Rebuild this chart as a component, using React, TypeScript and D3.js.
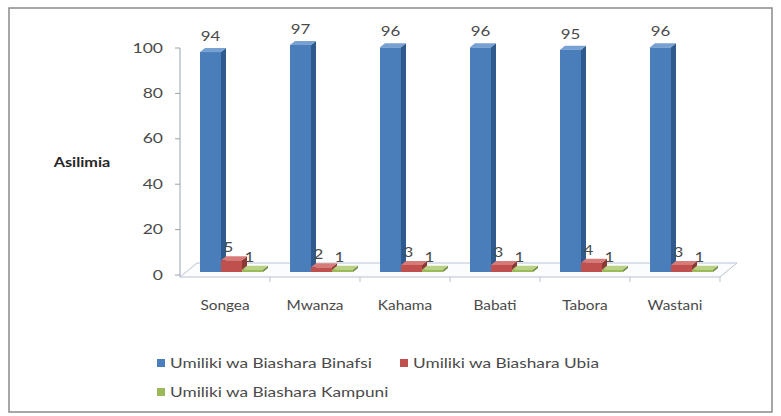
import React from 'react';
import * as d3 from 'd3';

// data
const categories = ['Songea', 'Mwanza', 'Kahama', 'Babati', 'Tabora', 'Wastani'];
const seriesNames = ['Umiliki wa Biashara Binafsi', 'Umiliki wa Biashara Ubia', 'Umiliki wa Biashara Kampuni'];
const binafsi = [94, 97, 96, 96, 95, 96];
const ubia = [5, 2, 3, 3, 4, 3];
const kampuni = [1, 1, 1, 1, 1, 1];
const yTicks = [0, 20, 40, 60, 80, 100];

const seriesValues = [binafsi, ubia, kampuni];
// front, side, top shades
const palette = [
  ['#4A7EBB', '#2F5A8E', '#77A0D3'],
  ['#C0504D', '#8C3836', '#D87B78'],
  ['#9BBB59', '#6F8A3C', '#B9D284'],
];

const W = 781;
const H = 416;
const font = 'Lato, "Open Sans", "Liberation Sans", sans-serif';

// the source image is stretched sideways, so text gets a horizontal scale
const T = ({ x, y, sx = 1.3, size = 13, anchor = 'start', weight = 'normal', fill = '#4a4a4a', dy = '0', children }: any) => (
  <text
    transform={`translate(${x},${y}) scale(${sx},1)`}
    textAnchor={anchor}
    fontSize={size}
    fontWeight={weight}
    fill={fill}
    fontFamily={font}
    dy={dy}
  >
    {children}
  </text>
);

const App = () => {
  // plot geometry
  const x0 = 180;
  const x1 = 720;
  const depthX = 17;
  const depthY = 14;
  const floorY = 277;

  const x = d3.scaleBand<string>().domain(categories).range([x0, x1]);
  const xs = d3.scaleBand<string>().domain(seriesNames).range([20, 83]);
  // axis ticks (front plane)
  const yAxis = d3.scaleLinear().domain([0, 100]).range([275, 48]);
  // bars sit on the back plane of the 3d box
  const yBar = d3.scaleLinear().domain([0, 100]).range([272, 38]);

  const d = 5; // bar depth
  const dd = 4;

  const bars: React.ReactNode[] = [];
  const labels: React.ReactNode[] = [];
  categories.forEach((c, i) => {
    seriesNames.forEach((s, j) => {
      const v = seriesValues[j][i];
      const bx = (x(c) as number) + (xs(s) as number);
      const w = xs.bandwidth();
      const top = yBar(v);
      const base = yBar(0);
      const [front, side, topC] = palette[j];
      bars.push(
        <g key={`${c}-${s}`}>
          <path
            d={`M${bx + w},${top} L${bx + w + d},${top - dd} L${bx + w + d},${base - dd} L${bx + w},${base} Z`}
            fill={side}
          />
          <path
            d={`M${bx},${top} L${bx + d},${top - dd} L${bx + w + d},${top - dd} L${bx + w},${top} Z`}
            fill={topC}
          />
          <rect x={bx} y={top} width={w} height={base - top} fill={front} />
        </g>
      );
      labels.push(
        <T
          key={`l-${c}-${s}`}
          x={j === 0 ? bx + w / 2 : bx + w / 2 - 3}
          y={j === 0 ? top - 11 : top - 8}
          anchor="middle"
          sx={1.3}
        >
          {v}
        </T>
      );
    });
  });

  return (
    <svg width={W} height={H} style={{ position: 'absolute', left: 0, top: 0 }}>
      <rect x={0} y={0} width={W} height={H} fill="#fff" />
      <rect x={9} y={8} width={763} height={404} fill="#fff" stroke="#8a8a8a" strokeWidth={1.5} />

      {/* floor */}
      <path
        d={`M${x0},${floorY} L${x1},${floorY} L${x1 + depthX},${floorY - depthY} L${x0 + depthX},${floorY - depthY} Z`}
        fill="#fbfcfe"
        stroke="#b9c3d3"
        strokeWidth={1}
      />

      {/* y axis */}
      <line x1={x0} x2={x0} y1={yAxis(100)} y2={floorY} stroke="#9aa3b0" />
      {yTicks.map((t) => (
        <g key={t}>
          <line x1={x0 - 5} x2={x0} y1={yAxis(t)} y2={yAxis(t)} stroke="#9aa3b0" />
          <T x={x0 - 17} y={yAxis(t)} dy="0.35em" anchor="end" sx={1.35}>
            {t}
          </T>
        </g>
      ))}

      {/* x ticks on floor edge */}
      {categories.map((c) => (
        <line
          key={c}
          x1={(x(c) as number) + x.bandwidth()}
          x2={(x(c) as number) + x.bandwidth()}
          y1={floorY}
          y2={floorY + 5}
          stroke="#b9c3d3"
        />
      ))}

      {bars}
      {labels}

      {/* category labels */}
      {categories.map((c) => (
        <T key={c} x={(x(c) as number) + x.bandwidth() / 2} y={310} anchor="middle" size={14} sx={1.1}>
          {c}
        </T>
      ))}

      <T x={82} y={167} anchor="middle" weight="bold" fill="#262626" sx={1.25}>
        Asilimia
      </T>

      {/* legend */}
      {seriesNames.map((s, j) => {
        const lx = j === 1 ? 400 : 157;
        const ly = j === 2 ? 392 : 363;
        return (
          <g key={s}>
            <rect x={lx} y={ly - 4} width={8} height={8} fill={palette[j][0]} />
            <T x={lx + 13} y={ly} dy="0.35em" sx={1.33}>
              {s}
            </T>
          </g>
        );
      })}
    </svg>
  );
};

export default App;
